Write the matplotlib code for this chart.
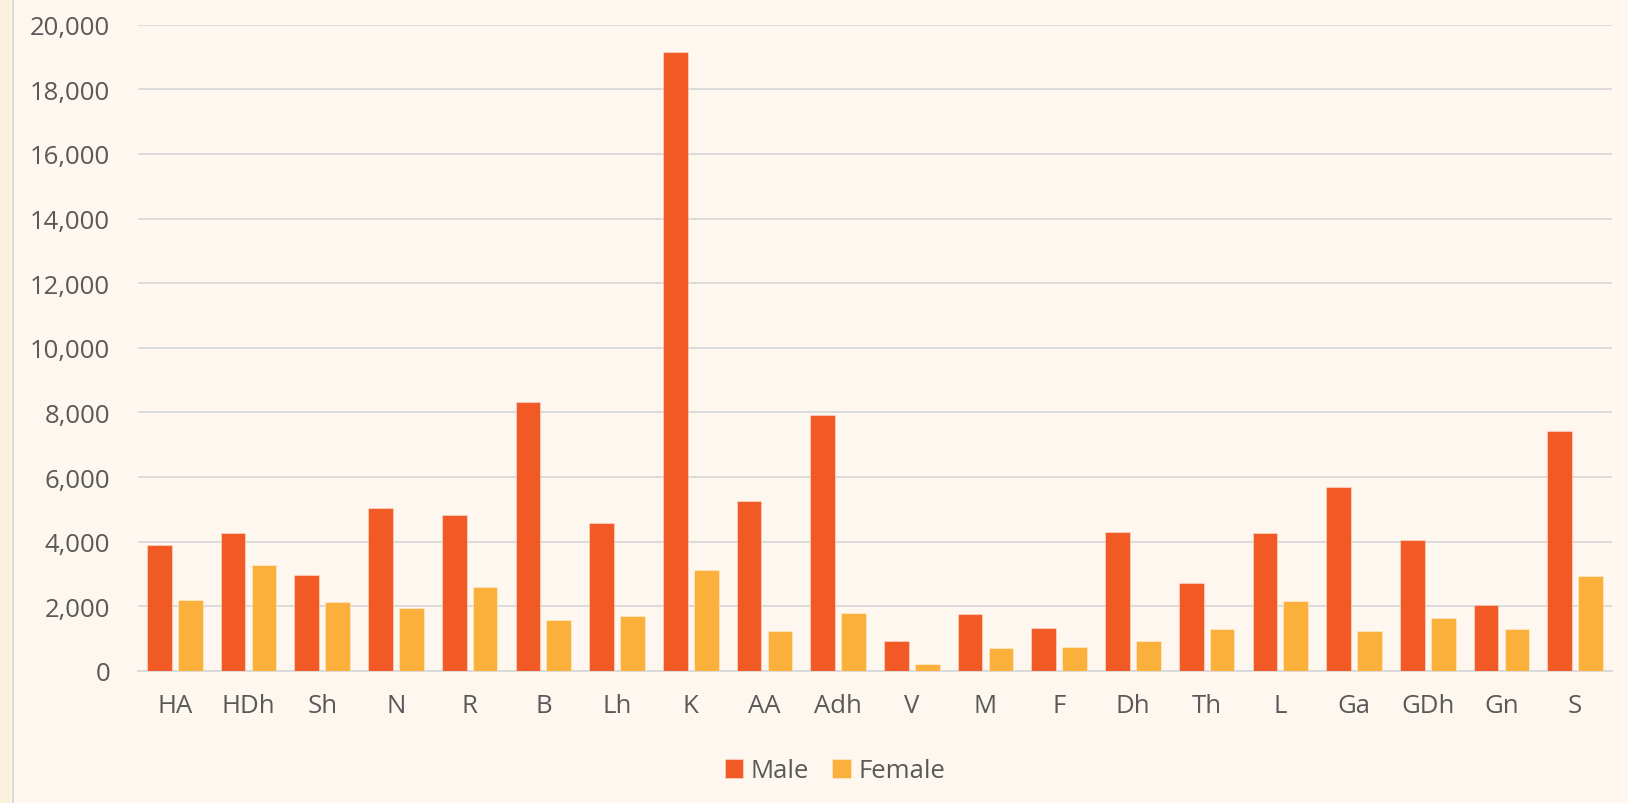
import matplotlib
matplotlib.use("Agg")
import matplotlib.pyplot as plt
import numpy as np
from matplotlib.patches import Rectangle
from matplotlib.lines import Line2D
from matplotlib.ticker import FuncFormatter

categories = ["HA", "HDh", "Sh", "N", "R", "B", "Lh", "K", "AA", "Adh",
              "V", "M", "F", "Dh", "Th", "L", "Ga", "GDh", "Gn", "S"]
male = [3890, 4280, 2970, 5050, 4840, 8310, 4590, 19140, 5270, 7930,
        940, 1750, 1330, 4300, 2730, 4280, 5680, 4060, 2040, 7430]
female = [2190, 3290, 2130, 1960, 2590, 1590, 1690, 3140, 1250, 1790,
          230, 700, 730, 920, 1310, 2170, 1240, 1650, 1310, 2930]
yticks = [0, 2000, 4000, 6000, 8000, 10000, 12000, 14000, 16000, 18000, 20000]

plt.rcParams['font.family'] = ['Open Sans', 'DejaVu Sans']

MALE_C = "#F15A24"
FEMALE_C = "#FBB03B"
TXT = "#595959"
GRID = "#D9D9D9"

fig = plt.figure(figsize=(16.28, 8.04), dpi=100)
fig.patch.set_facecolor("#FEF7F0")
fig.patches.append(Rectangle((0, 0), 11/1628, 1, transform=fig.transFigure,
                             facecolor="#FDEFDD", edgecolor="none", zorder=0))
fig.lines.append(Line2D([12.5/1628, 12.5/1628], [0, 1], transform=fig.transFigure,
                        color="#D4D4D4", linewidth=1.2))

ax = fig.add_axes([138/1628, 132/804, (1612-138)/1628, (672-25.7)/804])
ax.set_facecolor("#FEF7F0")

x = np.arange(len(categories))
w = 0.335
off = 0.21
ax.bar(x - off, male, w, color=MALE_C, edgecolor=(1, 1, 1, 0.35), linewidth=0.8,
       label="Male", zorder=3)
ax.bar(x + off, female, w, color=FEMALE_C, edgecolor=(1, 1, 1, 0.35), linewidth=0.8,
       label="Female", zorder=3)

ax.set_xlim(-0.5, len(categories) - 0.5)
ax.set_ylim(0, 20000)
ax.set_yticks(yticks)
ax.yaxis.set_major_formatter(FuncFormatter(lambda v, p: f"{int(v):,}"))
ax.set_xticks(x)
ax.set_xticklabels(categories)
ax.grid(axis="y", color=GRID, linewidth=1.3, zorder=0)
ax.set_axisbelow(True)
for s in ["top", "right", "left"]:
    ax.spines[s].set_visible(False)
ax.spines["bottom"].set_color(GRID)
ax.spines["bottom"].set_linewidth(1.3)
ax.tick_params(axis="both", length=0, labelsize=18.5, labelcolor=TXT)
ax.tick_params(axis="y", pad=20)
ax.tick_params(axis="x", pad=16)

fig.legend(loc="center", bbox_to_anchor=(0.513, 0.040), ncol=2, frameon=False,
           fontsize=18.5, labelcolor=TXT, handlelength=0.72, handleheight=0.72,
           handletextpad=0.3, columnspacing=0.9)

fig.savefig("out.png", dpi=100, facecolor=fig.get_facecolor())
